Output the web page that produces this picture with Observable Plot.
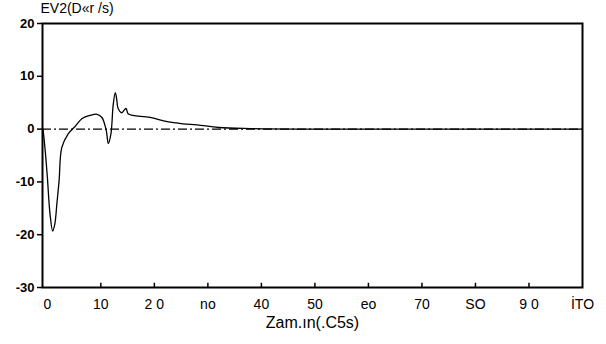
<!DOCTYPE html>
<html><head><meta charset="utf-8">
<script src="https://cdn.jsdelivr.net/npm/d3@7"></script>
<script src="https://cdn.jsdelivr.net/npm/@observablehq/plot@0.6"></script>
<style>body{margin:0;background:#fff}</style>
</head><body><div id="chart"></div>
<script>
const times  = [-0.8, -0.4, 0, 0.5, 1.0, 1.4, 1.8, 2.2, 2.7, 3.9, 5.2, 6.5, 8, 9.3, 10.2, 11, 11.4, 11.9, 12.3, 12.7, 13.0, 13.2, 13.9, 14.7, 15.1, 16, 19.2, 22.4, 25.4, 28, 32, 38, 50, 100];
const values = [0, -4, -9, -16, -19.3, -18, -14, -9.8, -3.5, -0.9, 0.5, 2, 2.6, 2.8, 2.2, -0.2, -2.7, -0.8, 4.5, 6.9, 5.4, 4, 3.1, 3.9, 2.9, 2.6, 2.2, 1.4, 1.0, 0.8, 0.3, 0.1, 0, 0];
const xTicks = [0, 10, 20, 30, 40, 50, 60, 70, 80, 90, 100];
const xTickLabels = ["0", "10", "2 0", "no", "40", "50", "eo", "70", "SO", "9 0", "İTO"];
const yTicks = [20, 10, 0, -10, -20, -30];
const yTickLabels = ["20", "10", "0", "-10", "-20", "-30"];
const title = "EV2(D«r /s)";
const xLabel = "Zam.ın(.C5s)";

const data = times.map((t, i) => ({t, v: values[i]}));
const xl = new Map(xTicks.map((d, i) => [d, xTickLabels[i]]));
const yl = new Map(yTicks.map((d, i) => [d, yTickLabels[i]]));

const chart = Plot.plot({
  width: 606, height: 344,
  marginTop: 23, marginBottom: 57, marginLeft: 42, marginRight: 24,
  style: {fontFamily: "Liberation Sans, Arial, sans-serif", background: "#fff", color: "#000"},
  x: {domain: [-0.9, 100]},
  y: {domain: [-30, 20]},
  marks: [
    Plot.ruleY([0], {stroke: "#000", strokeWidth: 1.2, strokeDasharray: "9,3,2,3"}),
    Plot.line(data, {x: "t", y: "v", stroke: "#000", strokeWidth: 1.3, curve: "catmull-rom"}),
    Plot.frame({stroke: "#000", strokeWidth: 2}),
    Plot.axisY(yTicks, {label: null, tickSize: 5, tickPadding: 3, tickFormat: d => yl.get(d), fontSize: 13, fontWeight: "bold", strokeWidth: 1.5}),
    Plot.ruleX(xTicks.slice(1, -1), {y1: -30, y2: -29.2, stroke: "#000", strokeWidth: 1.5}),
    Plot.axisX(xTicks, {label: null, tickSize: 0, tickPadding: 12, tickFormat: d => xl.get(d), fontSize: 14}),
    Plot.text([title], {frameAnchor: "top-left", dy: -15, dx: -2, textAnchor: "start", lineAnchor: "middle", fontSize: 14}),
    Plot.text([xLabel], {frameAnchor: "bottom", dy: 40, fontSize: 16})
  ]
});
document.getElementById("chart").appendChild(chart);
</script></body></html>
